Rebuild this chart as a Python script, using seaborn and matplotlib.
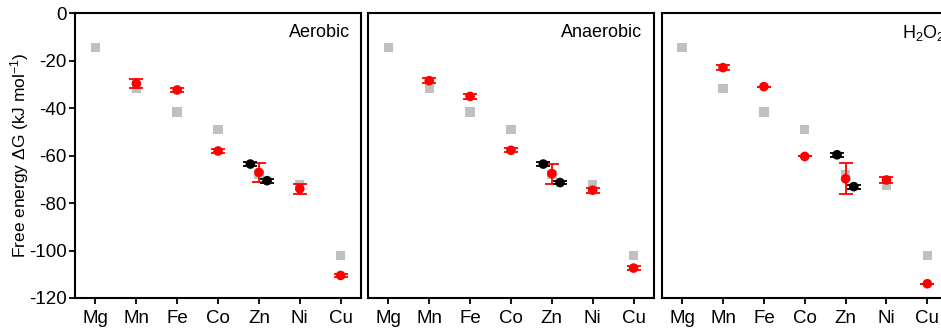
import numpy as np
import pandas as pd
import matplotlib.pyplot as plt
import seaborn as sns

# ===== DATA =====
metals = ['Mg', 'Mn', 'Fe', 'Co', 'Zn', 'Ni', 'Cu']
conditions = ['Aerobic', 'Anaerobic', 'H$_2$O$_2$']

# grey squares (same reference set in every panel)
ref_dg = [-14.5, -31.8, -41.7, -49.0, -68.0, -72.5, -102.2]

# red circles (measured), Mg has no value
red_aerobic = [np.nan, -29.7, -32.4, -58.1, -67.1, -74.0, -110.5]
red_aerobic_err = [0, 2.0, 0.8, 0.8, 4.0, 2.0, 0.8]
red_anaerobic = [np.nan, -28.5, -35.1, -57.8, -67.6, -74.6, -107.4]
red_anaerobic_err = [0, 1.0, 1.0, 0.8, 4.2, 1.0, 0.8]
red_h2o2 = [np.nan, -23.0, -31.0, -60.4, -69.8, -70.3, -114.0]
red_h2o2_err = [0, 1.0, 0.0, 0.0, 6.6, 1.2, 0.0]

# black circles next to Zn
black_offset = [-0.21, 0.2]
black_aerobic = [-63.6, -70.6]
black_anaerobic = [-63.6, -71.4]
black_h2o2 = [-59.7, -73.1]
black_err = [0.8, 0.8]

red_sets = [(red_aerobic, red_aerobic_err), (red_anaerobic, red_anaerobic_err), (red_h2o2, red_h2o2_err)]
black_sets = [black_aerobic, black_anaerobic, black_h2o2]

# ===== PLOT =====
sns.set_style('white')
plt.rcParams['font.family'] = ['Liberation Sans', 'DejaVu Sans']
plt.rcParams['mathtext.fontset'] = 'custom'
plt.rcParams['mathtext.rm'] = 'Liberation Sans'
plt.rcParams['mathtext.it'] = 'Liberation Sans'
plt.rcParams['axes.unicode_minus'] = False
plt.rcParams['text.color'] = 'black'
plt.rcParams['axes.labelcolor'] = 'black'
plt.rcParams['xtick.color'] = 'black'
plt.rcParams['ytick.color'] = 'black'

fig = plt.figure(figsize=(9.41, 3.31), dpi=100)
lefts = [0.0797, 0.391, 0.7032]
label_pos = [(0.96, 'right'), (0.96, 'right'), (0.84, 'left')]
x = np.arange(len(metals))
zn = metals.index('Zn')

for i, cond in enumerate(conditions):
    ax = fig.add_axes([lefts[i], 0.0997, 0.304, 0.861])
    ref = pd.DataFrame({'x': x, 'dg': ref_dg})
    sns.scatterplot(data=ref, x='x', y='dg', marker='s', s=46, color='#c0c0c0',
                    edgecolor='none', ax=ax, zorder=2)

    vals, errs = red_sets[i]
    red = pd.DataFrame({'x': x, 'dg': vals, 'err': errs}).dropna()
    ax.errorbar(red['x'], red['dg'], yerr=red['err'], fmt='none', ecolor='red',
                elinewidth=1.3, capsize=5, capthick=1.3, zorder=3)
    sns.scatterplot(data=red, x='x', y='dg', marker='o', s=48, color='red',
                    edgecolor='none', ax=ax, zorder=4)

    blk = pd.DataFrame({'x': zn + np.array(black_offset), 'dg': black_sets[i], 'err': black_err})
    ax.errorbar(blk['x'], blk['dg'], yerr=blk['err'], fmt='none', ecolor='black',
                elinewidth=1.3, capsize=5, capthick=1.3, zorder=3)
    sns.scatterplot(data=blk, x='x', y='dg', marker='o', s=48, color='black',
                    edgecolor='none', ax=ax, zorder=4)

    ax.set_xlim(-0.5, 6.5)
    ax.set_ylim(-120, 0)
    ax.set_xticks(x)
    ax.set_xticklabels(metals, fontsize=13.5)
    ax.set_xlabel('')
    ax.set_ylabel('')
    ax.set_yticks(np.arange(-120, 1, 20))
    if i == 0:
        ax.tick_params(axis='y', labelsize=13.5, direction='out', length=4, width=1.3, left=True, pad=2)
        ax.set_ylabel('Free energy $\\Delta$G (kJ mol$^{-1}$)', fontsize=12.5)
        ax.yaxis.set_label_coords(-0.155, 0.5)
    else:
        ax.tick_params(axis='y', left=False, labelleft=False)
    ax.tick_params(axis='x', direction='out', length=4, width=1.3, bottom=True, pad=5)
    for sp in ax.spines.values():
        sp.set_linewidth(1.5)
        sp.set_color('black')
    lx, ha = label_pos[i]
    ax.text(lx, 0.93, cond, transform=ax.transAxes, ha=ha, va='center', fontsize=13)

fig.savefig('out.png', dpi=100)
